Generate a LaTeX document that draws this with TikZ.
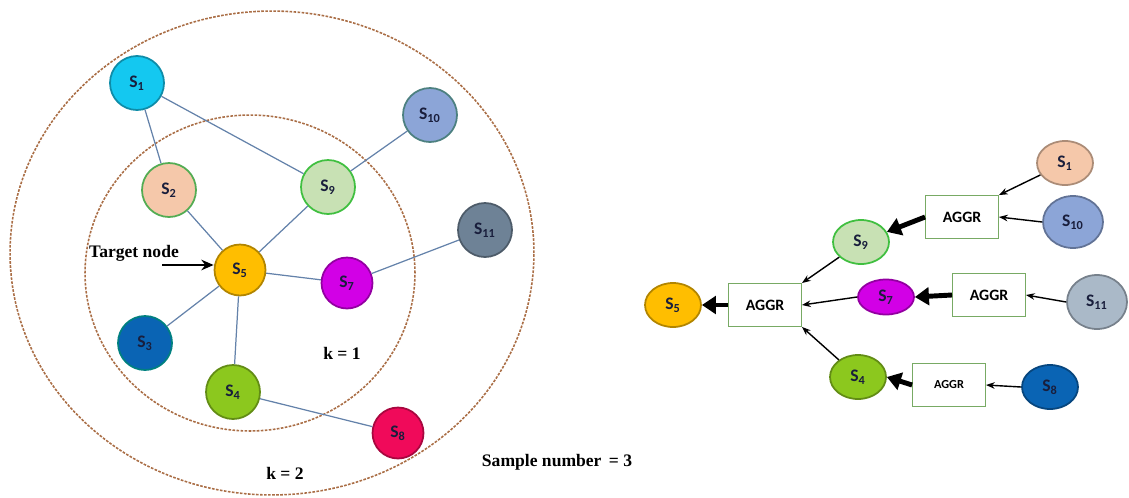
\documentclass[tikz,border=0pt]{standalone}
\usepackage{fontspec}
\setmainfont{Liberation Serif}
\setsansfont{Carlito}
\usepackage{xcolor}
\usetikzlibrary{arrows.meta, shapes.geometric, positioning}

\definecolor{cyanS}{RGB}{20,200,240}
\definecolor{peachS}{RGB}{245,200,170}
\definecolor{mintS}{RGB}{200,225,180}
\definecolor{lavS}{RGB}{140,165,215}
\definecolor{slateS}{RGB}{110,130,150}
\definecolor{greyS}{RGB}{170,185,200}
\definecolor{amberS}{RGB}{255,190,0}
\definecolor{violetS}{RGB}{210,0,230}
\definecolor{navyS}{RGB}{10,100,180}
\definecolor{limeS}{RGB}{140,200,30}
\definecolor{roseS}{RGB}{240,10,90}
\definecolor{ringC}{RGB}{170,110,70}
\definecolor{edgeC}{RGB}{100,130,170}
\definecolor{boxC}{RGB}{120,170,100}
\definecolor{inkC}{RGB}{25,30,60}

\begin{document}
\begin{tikzpicture}[
    x=0.02cm, y=-0.02cm,
    snode/.style={circle, fill=#1, draw=#1!70!black, line width=1pt, minimum size=1.08cm, inner sep=0pt, text=inkC, font=\sffamily\bfseries},
    enode/.style={ellipse, fill=#1, draw=#1!70!black, line width=1pt, minimum width=1.12cm, minimum height=0.88cm, inner sep=0pt, text=inkC, font=\sffamily\bfseries},
    aggr/.style={rectangle, draw=boxC, fill=white, line width=0.8pt, minimum width=1.45cm, minimum height=0.85cm, font=\sffamily\bfseries\small},
    ring/.style={draw=ringC, line width=0.9pt, dash pattern=on 1.5pt off 0.8pt},
    link/.style={draw=edgeC, line width=0.7pt},
    feed/.style={-{Stealth[length=5pt]}, line width=0.8pt},
    pass/.style={-{Triangle[length=8pt, width=10pt]}, line width=2.8pt},
    lbl/.style={font=\bfseries}
]
\useasboundingbox (0,0) rectangle (1129,497);

% Sampling rings
\draw[ring] (272,253) ellipse [x radius=5.24cm, y radius=4.84cm];
\draw[ring] (250,273) ellipse [x radius=3.3cm, y radius=3.16cm];

% Sampled graph
\node[snode=cyanS] (s1) at (137,83) {S\textsubscript{1}};
\node[snode=peachS, draw=green!35!gray] (s2) at (169,190) {S\textsubscript{2}};
\node[snode=mintS, draw=green!50!gray] (s9) at (328,187) {S\textsubscript{9}};
\node[snode=lavS, draw=teal!40!gray] (s10) at (430,115) {S\textsubscript{10}};
\node[snode=slateS] (s11) at (485,230) {S\textsubscript{11}};
\node[snode=amberS, minimum size=1.02cm] (s5) at (240,270) {S\textsubscript{5}};
\node[snode=violetS, minimum size=1.02cm] (s7) at (347,283) {S\textsubscript{7}};
\node[snode=navyS, draw=teal] (s3) at (145,343) {S\textsubscript{3}};
\node[snode=limeS] (s4) at (233,392) {S\textsubscript{4}};
\node[snode=roseS, minimum size=1.02cm] (s8) at (398,433) {S\textsubscript{8}};

\foreach \a/\b in {s1/s2, s1/s9, s9/s10, s2/s5, s9/s5, s5/s7, s7/s11, s5/s3, s5/s4, s4/s8}
    \draw[link] (\a) -- (\b);

% Labels
\node[lbl] (target) at (134,253) {Target node};
\coordinate (tgt) at (162,265);
\draw[-{Stealth[length=7pt, width=6pt]}, line width=1.6pt] (tgt) -- (tgt -| s5.west);
\node[lbl] (k1) at (342,353) {k = 1};
\node[lbl] (k2) at (285,473) {k = 2};
\node[lbl] (sample) at (557,462) {Sample number\, = 3};

% Aggregation tree
\node[enode=amberS] (r5) at (673,305) {S\textsubscript{5}};
\node[aggr] (ag0) at (765,305) {AGGR};
\node[enode=mintS, draw=green!50!gray] (r9) at (861,242) {S\textsubscript{9}};
\node[enode=violetS, minimum height=0.7cm] (r7) at (886,297) {S\textsubscript{7}};
\node[enode=limeS] (r4) at (858,377) {S\textsubscript{4}};
\node[aggr] (ag1) at (962,217) {AGGR};
\node[aggr] (ag2) at (989,295) {AGGR};
\node[aggr, font=\sffamily\bfseries\scriptsize] (ag3) at (949,385) {AGGR};
\node[enode=peachS] (r1) at (1065,163) {S\textsubscript{1}};
\node[enode=lavS, minimum width=1.2cm, minimum height=1.04cm] (r10) at (1073,222) {S\textsubscript{10}};
\node[enode=greyS, minimum width=1.2cm, minimum height=1.08cm] (r11) at (1097,302) {S\textsubscript{11}};
\node[enode=navyS] (r8) at (1050,387) {S\textsubscript{8}};

\draw[feed] (r1) -- (ag1.north east);
\draw[feed] (r10.west) -- (ag1.east);
\draw[feed] (r11.west) -- (ag2.east);
\draw[feed] (r8.west) -- (ag3.east);
\draw[feed] (r9) -- (ag0.north east);
\draw[feed] (r7.west) -- (ag0.east);
\draw[feed] (r4) -- (ag0.south east);

\draw[pass] (ag1.west) -- (r9);
\draw[pass] (ag2.west) -- (r7.east);
\draw[pass] (ag3.west) -- (r4.east);
\draw[pass] (ag0.west) -- (r5.east);

\end{tikzpicture}
\end{document}
